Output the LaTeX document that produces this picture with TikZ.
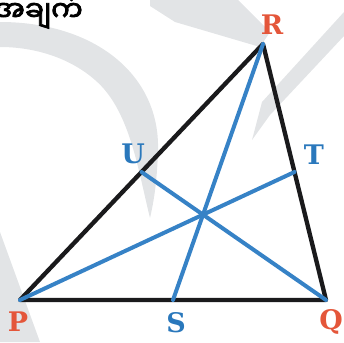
\documentclass[tikz,border=0pt]{standalone}
\usepackage{fontspec}
\setmainfont{DejaVu Serif}
\newfontfamily\mmfont[Script=Myanmar,FakeBold=3]{Noto Sans Myanmar UI}
\usetikzlibrary{
  calc,
  positioning
}
\definecolor{sideInk}{RGB}{26,26,28}
\definecolor{medianBlue}{RGB}{54,130,198}
\definecolor{vertexRed}{RGB}{228,86,58}
\definecolor{pointBlue}{RGB}{42,120,188}
\definecolor{markGrey}{RGB}{226,228,230}
\tikzset{
  side/.style={draw=sideInk, line width=1.3mm, line cap=round, line join=round},
  median/.style={draw=medianBlue, line width=1.2mm, line cap=round},
  vertex label/.style={
    text=vertexRed,
    inner sep=0pt,
    font=\bfseries\fontsize{23}{25}\selectfont
  },
  point label/.style={
    text=pointBlue,
    inner sep=0pt,
    font=\bfseries\fontsize{23}{25}\selectfont
  },
  watermark/.style={fill=markGrey, draw=none},
  heading/.style={font=\mmfont\fontsize{24}{26}\selectfont, inner sep=0pt, text=black}
}

\begin{document}
\begin{tikzpicture}[x=0.03cm,y=-0.03cm]
  \useasboundingbox (0,0) rectangle (344,342);
  \clip (0,0) rectangle (344,342);

  % faint watermark behind the figure
  \fill[watermark] (0,22) .. controls (95,22) and (160,75) .. (158,150)
    .. controls (157,185) and (153,205) .. (150,218)
    .. controls (138,170) and (130,110) .. (95,80)
    .. controls (70,58) and (35,47) .. (0,47) -- cycle;
  \fill[watermark] (150,0) -- (238,0) -- (270,32) -- (260,47) -- (175,22) -- (150,6) -- cycle;
  \fill[watermark] (344,12) -- (344,36) -- (270,115) -- (252,140) -- (262,102) -- (282,80) -- cycle;
  \fill[watermark] (0,232) -- (40,342) -- (0,342) -- cycle;

  \node[heading, anchor=base east] (title) at (83,21) {အဓိကအချက်};

  \coordinate (P) at (20,300);
  \coordinate (Q) at (326,300);
  \coordinate (R) at (263,44);
  \coordinate (S) at ($(P)!0.5!(Q)$);
  \coordinate (T) at ($(Q)!0.5!(R)$);
  \coordinate (U) at ($(P)!0.5!(R)$);

  \draw[side] (P) -- (Q) -- (R) -- cycle;
  \draw[median] (R) -- (S);
  \draw[median] (P) -- (T);
  \draw[median] (Q) -- (U);

  \node[vertex label] (labelP) at (18,322) {P};
  \node[vertex label] (labelQ) at (331,322) {Q};
  \node[vertex label] (labelR) at (272,25) {R};
  \node[point label] (labelS) at (176,323) {S};
  \node[point label] (labelT) at (314,155) {T};
  \node[point label] (labelU) at (133,154) {U};
\end{tikzpicture}
\end{document}
